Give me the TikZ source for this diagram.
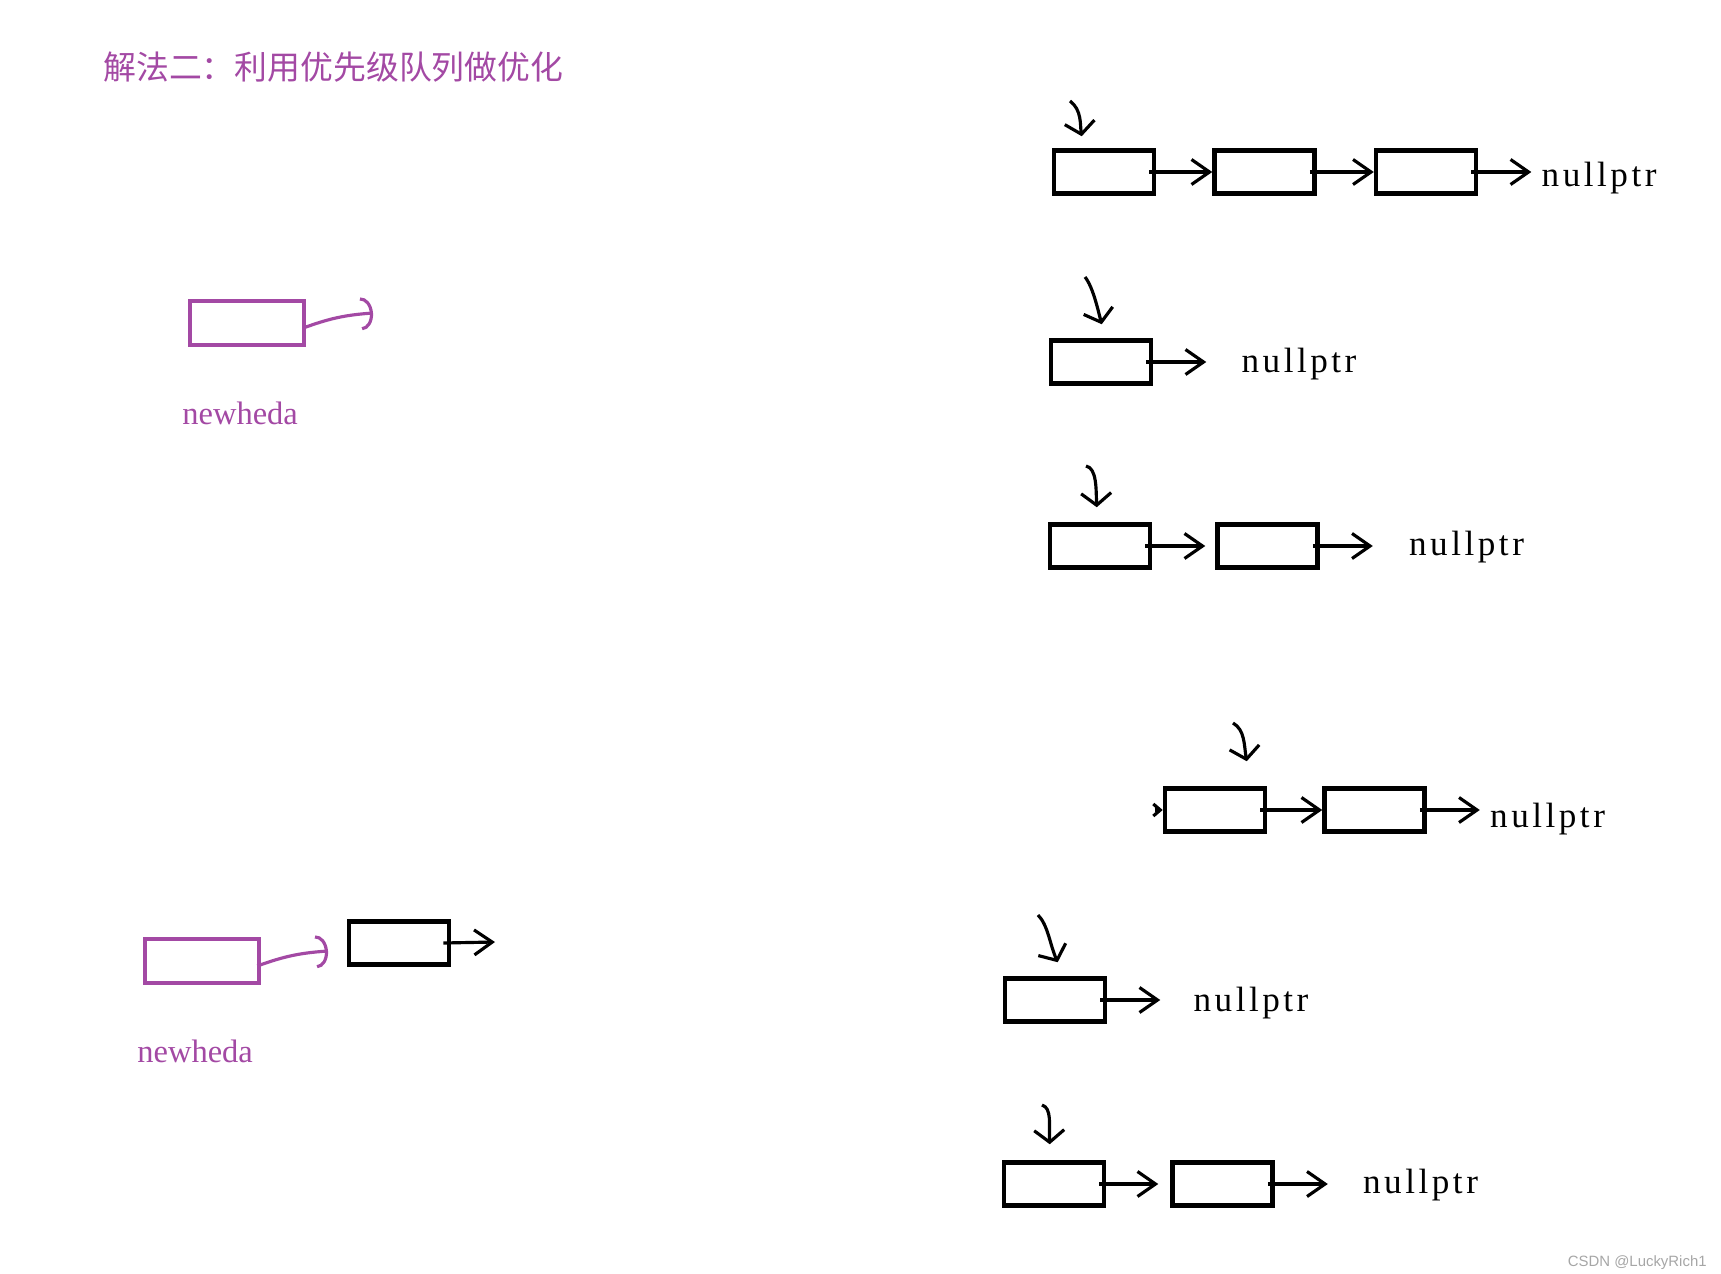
\documentclass[tikz,border=0pt]{standalone}
\usepackage{fontspec}
\setmainfont{Liberation Serif}
\newfontfamily\cjkfont{Noto Sans CJK SC}
\newfontfamily\nulfont[LetterSpace=10]{Liberation Serif}
\newfontfamily\markfont{Liberation Sans}
\usepackage{tikz}
\usetikzlibrary{calc,positioning,arrows.meta}
\definecolor{paintpurple}{HTML}{A349A4}
\tikzstyle{arrow} = [line width=1.8pt, -{Straight Barb[length=0.36cm, width=0.5cm]}]
\tikzstyle{ptr} = [line width=1.8pt, -{Straight Barb[length=0.24cm, width=0.6cm]}]

\begin{document}
\begin{tikzpicture}[x=0.02cm, y=-0.02cm]
\tikzset{%
	cell/.style = { rectangle, draw=black, line width=2.6pt, minimum width=2cm, minimum height=0.86cm, inner sep=0pt },
	newcell/.style = { cell, draw=paintpurple, minimum width=2.28cm, minimum height=0.88cm },
	purplink/.style = { line width=1.8pt, draw=paintpurple, -{Arc Barb[length=0.24cm, width=0.66cm]} },
	nul/.style = { anchor=base west, inner sep=0pt, font=\nulfont\fontsize{20}{24}\selectfont },
	lbl/.style = { anchor=base west, inner sep=0pt, text=paintpurple, font=\fontsize{18.5}{22}\selectfont }
}
\useasboundingbox (0,0) rectangle (1721,1274);

\node(title) [anchor=west, inner sep=0pt, text=paintpurple, font=\cjkfont\fontsize{18.7}{22}\selectfont] at (103,67) {解法二：利用优先级队列做优化};

% newheda, first step
\node(h1) [newcell] at (247,323) {};
\node(w1) [lbl] at (182,424) {newheda};
\coordinate(f1) at (373,313);
\draw [purplink] ([shift={(-3,5)}]h1.east) to[bend left=8] (f1);

% newheda, second step
\node(h2) [newcell] at (202,961) {};
\node(w2) [lbl] at (137,1062) {newheda};
\node(k1) [cell] at (399,943) {};
\coordinate(f2) at (328,951);
\coordinate(f3) at (495,942);
\draw [purplink] ([shift={(-4,5)}]h2.east) to[bend left=8] (f2);
\draw [arrow] ([xshift=-0.16cm]k1.east) -- (f3);

% row 1
\node(r1a) [cell] at (1104,172) {};
\node(r1b) [cell, right=1.12cm of r1a] {};
\node(r1c) [cell, right=1.14cm of r1b] {};
\coordinate(e1) at ([xshift=1.06cm]r1c.east);
\node(n1) [nul] at ([shift={(10,14)}]e1) {nullptr};
\coordinate(s1) at (1070,101);
\draw [ptr] (s1) .. controls (1082,110) and (1080,125) .. ([shift={(30,-12)}]r1a.north west);
\draw [arrow] ([xshift=-0.14cm]r1a.east) -- (r1b.west);
\draw [arrow] ([xshift=-0.14cm]r1b.east) -- (r1c.west);
\draw [arrow] ([xshift=-0.14cm]r1c.east) -- (e1);

% row 2
\node(r2a) [cell] at (1101,362) {};
\coordinate(e2) at ([xshift=1.06cm]r2a.east);
\node(n2) [nul] at ([shift={(35,10)}]e2) {nullptr};
\coordinate(s2) at (1085,277);
\draw [ptr] (s2) .. controls (1093,287) and (1098,310) .. ([shift={(53,-14)}]r2a.north west);
\draw [arrow] ([xshift=-0.14cm]r2a.east) -- (e2);

% row 3
\node(r3a) [cell] at (1100,546) {};
\node(r3b) [cell, right=1.26cm of r3a] {};
\coordinate(e3) at ([xshift=1.06cm]r3b.east);
\node(n3) [nul] at ([shift={(36,9)}]e3) {nullptr};
\coordinate(s3) at (1086,466);
\draw [ptr] (s3) .. controls (1097,468) and (1096,490) .. ([shift={(49,-15)}]r3a.north west);
\draw [arrow, shorten >=0.2cm] ([xshift=-0.14cm]r3a.east) -- (r3b.west);
\draw [arrow] ([xshift=-0.14cm]r3b.east) -- (e3);

% row 4
\node(r4a) [cell] at (1215,810) {};
\node(r4b) [cell, right=1.1cm of r4a] {};
\coordinate(e4) at ([xshift=1.06cm]r4b.east);
\node(n4) [nul] at ([shift={(10,17)}]e4) {nullptr};
\coordinate(s4) at (1233,723);
\draw [ptr] (s4) .. controls (1245,730) and (1244,745) .. ([shift={(84,-25)}]r4a.north west);
\draw [line width=1.8pt, -{Straight Barb[length=0.14cm, width=0.24cm]}] ([xshift=-0.16cm]r4a.west) -- (r4a.west);
\draw [arrow] ([xshift=-0.14cm]r4a.east) -- (r4b.west);
\draw [arrow] ([xshift=-0.14cm]r4b.east) -- (e4);

% row 5
\node(r5a) [cell] at (1055,1000) {};
\coordinate(e5) at ([xshift=1.06cm]r5a.east);
\node(n5) [nul] at ([shift={(33,11)}]e5) {nullptr};
\coordinate(s5) at (1038,915);
\draw [ptr] (s5) .. controls (1048,925) and (1050,945) .. ([shift={(55,-14)}]r5a.north west);
\draw [arrow] ([xshift=-0.14cm]r5a.east) -- (e5);

% row 6
\node(r6a) [cell] at (1054,1184) {};
\node(r6b) [cell, right=1.28cm of r6a] {};
\coordinate(e6) at ([xshift=1.06cm]r6b.east);
\node(n6) [nul] at ([shift={(35,9)}]e6) {nullptr};
\coordinate(s6) at (1042,1105);
\draw [ptr] (s6) .. controls (1052,1108) and (1049,1125) .. ([shift={(48,-16)}]r6a.north west);
\draw [arrow, shorten >=0.24cm] ([xshift=-0.14cm]r6a.east) -- (r6b.west);
\draw [arrow] ([xshift=-0.14cm]r6b.east) -- (e6);

\node(mark) [anchor=east, inner sep=0pt, text=black!35, font=\markfont\fontsize{8.5}{10}\selectfont] at (1707,1263) {CSDN @LuckyRich1};
\end{tikzpicture}
\end{document}
